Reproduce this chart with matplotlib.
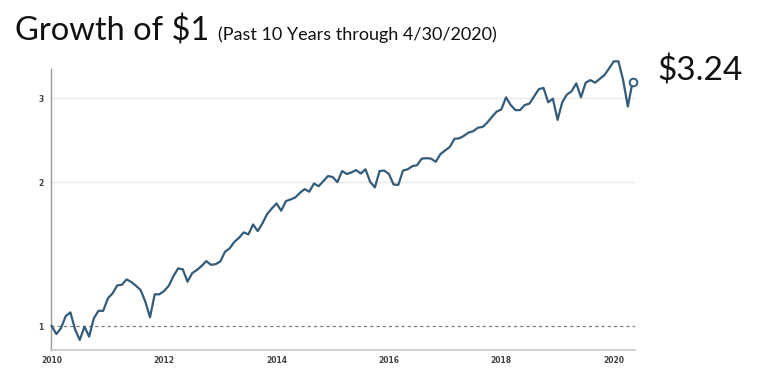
import numpy as np
import matplotlib
matplotlib.use("Agg")
import matplotlib.pyplot as plt
import matplotlib.ticker as mticker

# Valor de $1 investido, fim de cada mês (dez/2009 a abr/2020)
valores = [
    1.000, 0.962, 0.990, 1.049, 1.068, 0.984, 0.935, 0.997, 0.950, 1.038,
    1.076, 1.076, 1.143, 1.170, 1.216, 1.220, 1.252, 1.236, 1.214, 1.189,
    1.124, 1.043, 1.165, 1.165, 1.184, 1.214, 1.272, 1.320, 1.314, 1.238,
    1.290, 1.310, 1.335, 1.367, 1.343, 1.347, 1.365, 1.430, 1.454, 1.500,
    1.530, 1.570, 1.555, 1.631, 1.580, 1.640, 1.715, 1.762, 1.805, 1.743,
    1.825, 1.840, 1.858, 1.900, 1.934, 1.910, 1.987, 1.961, 2.010, 2.060,
    2.050, 2.000, 2.110, 2.080, 2.096, 2.120, 2.085, 2.128, 2.003, 1.950,
    2.110, 2.115, 2.080, 1.977, 1.974, 2.115, 2.128, 2.160, 2.170, 2.240,
    2.245, 2.240, 2.206, 2.290, 2.330, 2.370, 2.465, 2.470, 2.500, 2.540,
    2.557, 2.600, 2.610, 2.665, 2.740, 2.810, 2.840, 3.010, 2.900, 2.830,
    2.830, 2.900, 2.920, 3.025, 3.130, 3.150, 2.940, 2.990, 2.700, 2.940,
    3.050, 3.100, 3.220, 3.010, 3.230, 3.270, 3.230, 3.290, 3.350, 3.460,
    3.580, 3.580, 3.270, 2.880, 3.240,
]
anos_ticks = [2010, 2012, 2014, 2016, 2018, 2020]
y_ticks = [1, 2, 3]
valor_final = "$3.24"

cor_linha = "#335b7a"
valores = np.array(valores)
# posição de cada mês em anos fracionários
x_meses = 2010 + np.arange(len(valores)) / 12

fig = plt.figure(figsize=(7.68, 3.70), dpi=100)
ax = fig.add_axes([0.0658, 0.0554, 0.7612, 0.7581])

ax.set_yscale("log")
ax.set_ylim(0.893, 3.45)
ax.set_xlim(2009.98, 2020.38)

# linhas de grade
ax.axhline(2, color="#e8e8e8", linewidth=1.0, zorder=1)
ax.axhline(3, color="#e8e8e8", linewidth=1.0, zorder=1)
ax.axhline(1, color="#7a7a7a", linewidth=0.9, linestyle=(0, (2.5, 2.5)), zorder=1)

ax.plot(x_meses, valores, color=cor_linha, linewidth=1.6, zorder=3, clip_on=False)
ax.plot(x_meses[-1], valores[-1], marker="o", markersize=5.5,
        markerfacecolor="white", markeredgecolor=cor_linha,
        markeredgewidth=1.4, zorder=4, clip_on=False)

# eixos
for lado in ["top", "right"]:
    ax.spines[lado].set_visible(False)
ax.spines["left"].set_color("#9a9a9a")
ax.spines["bottom"].set_color("#c8c8c8")
ax.spines["left"].set_linewidth(1.0)
ax.spines["bottom"].set_linewidth(1.2)

ax.yaxis.set_minor_locator(mticker.NullLocator())
ax.set_yticks(y_ticks)
ax.yaxis.set_major_formatter(mticker.FormatStrFormatter("%d"))
ax.set_xticks(anos_ticks)
ax.set_xticklabels([str(a) for a in anos_ticks])
ax.tick_params(axis="both", length=0, labelsize=5.5, labelcolor="#444444")
ax.tick_params(axis="y", pad=5)
ax.tick_params(axis="x", pad=5)
for lbl in ax.get_xticklabels() + ax.get_yticklabels():
    lbl.set_fontweight("bold")

# títulos
fig.text(15 / 768, 1 - 40 / 370, "Growth of $1", fontsize=23.5,
         family="Lato", color="#111111", va="baseline", ha="left")
fig.text(218 / 768, 1 - 40 / 370, "(Past 10 Years through 4/30/2020)",
         fontsize=13, family="Lato", color="#111111", va="baseline", ha="left")
fig.text(657 / 768, 1 - 80 / 370, valor_final, fontsize=24,
         family="Lato", color="#111111", va="baseline", ha="left")

fig.savefig("out.png", dpi=100)
